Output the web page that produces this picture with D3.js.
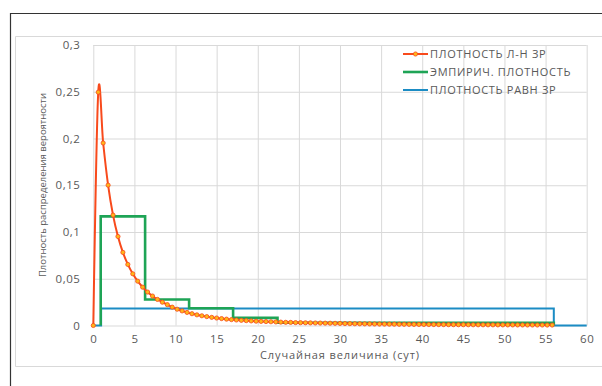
<!DOCTYPE html>
<html>
<head>
<meta charset="utf-8">
<script src="https://cdn.jsdelivr.net/npm/d3@7"></script>
<style>
  html, body { margin: 0; padding: 0; background: #fff; }
  svg { display: block; }
  text { font-family: "Open Sans", "Noto Sans", sans-serif; fill: #595959; }
</style>
</head>
<body>
<svg id="chart" width="602" height="386"></svg>
<script>
// Lognormal density samples (x in days, density)
const lognormX = [0, 0.6, 1.2, 1.8, 2.4, 3, 3.6, 4.2, 4.8, 5.4, 6, 6.6, 7.2, 7.8, 8.4, 9, 9.6, 10.2, 10.8, 11.4,
  12, 12.6, 13.2, 13.8, 14.4, 15, 15.6, 16.2, 16.8, 17.4, 18, 18.6, 19.2, 19.8, 20.4, 21, 21.6, 22.2, 22.8, 23.4,
  24, 24.6, 25.2, 25.8, 26.4, 27, 27.6, 28.2, 28.8, 29.4, 30, 30.6, 31.2, 31.8, 32.4, 33, 33.6, 34.2, 34.8, 35.4,
  36, 36.6, 37.2, 37.8, 38.4, 39, 39.6, 40.2, 40.8, 41.4, 42, 42.6, 43.2, 43.8, 44.4, 45, 45.6, 46.2, 46.8, 47.4,
  48, 48.6, 49.2, 49.8, 50.4, 51, 51.6, 52.2, 52.8, 53.4, 54, 54.6, 55.2, 55.8];
const lognormY = [0, 0.2495, 0.1952, 0.1501, 0.1181, 0.0952, 0.0782, 0.0653, 0.0553, 0.0474, 0.0410, 0.0358, 0.0315,
  0.0279, 0.0249, 0.0223, 0.0196, 0.0174, 0.0156, 0.0140, 0.0126, 0.0114, 0.0104, 0.0095, 0.0087, 0.0080, 0.0074,
  0.0068, 0.0063, 0.0059, 0.0055, 0.0052, 0.0049, 0.0046, 0.0044, 0.0042, 0.0040, 0.0038, 0.0036, 0.0034, 0.0033,
  0.0031, 0.0030, 0.0029, 0.0028, 0.0027, 0.0026, 0.0025, 0.0024, 0.0023, 0.0022, 0.00207, 0.00198, 0.00189,
  0.00182, 0.00174, 0.00167, 0.0016, 0.00154, 0.00148, 0.00142, 0.00137, 0.00131, 0.00127, 0.00122, 0.00117,
  0.00113, 0.00109, 0.00105, 0.00102, 0.00098, 0.00095, 0.00092, 0.00089, 0.00086, 0.00083, 0.0008, 0.00078,
  0.00075, 0.00073, 0.00071, 0.00068, 0.00066, 0.00064, 0.00062, 0.0006, 0.00059, 0.00057, 0.00055, 0.00054,
  0.00052, 0.00051, 0.00049, 0.00048];

// Empirical density (histogram bins)
const empiricalEdges = [0.9, 6.3, 11.65, 17.0, 22.4, 56.0];
const empiricalHeights = [0.1167, 0.0278, 0.0185, 0.0082, 0.0029];

// Uniform density
const uniformFrom = 0.95;
const uniformTo = 56.0;
const uniformHeight = 0.01815;
const uniformAxisEnd = 60;

// Axis ticks
const xTicks = [0, 5, 10, 15, 20, 25, 30, 35, 40, 45, 50, 55, 60];
const yTicks = [0, 0.05, 0.1, 0.15, 0.2, 0.25, 0.3];

const seriesNames = ["ПЛОТНОСТЬ Л-Н ЗР", "ЭМПИРИЧ. ПЛОТНОСТЬ", "ПЛОТНОСТЬ РАВН ЗР"];
const xTitle = "Случайная величина (сут)";
const yTitle = "Плотность распределения вероятности";

const colors = { lognorm: "#f84a1c", marker: "#ffb619", empirical: "#1ea456", uniform: "#1b8cc4", grid: "#d9d9d9" };

const svg = d3.select("#chart");

// frames
svg.append("path").attr("d", "M10.5,386 V13.5 H602").attr("fill", "none").attr("stroke", "#333").attr("stroke-width", 1.2);
svg.append("path").attr("d", "M602,36.5 H15.5 V366.5 H602").attr("fill", "none").attr("stroke", "#d9d9d9").attr("stroke-width", 1);

const x = d3.scaleLinear().domain([0, 60]).range([93.3, 586.7]);
const y = d3.scaleLinear().domain([0, 0.3]).range([325.5, 45]);

// gridlines
const grid = svg.append("g");
grid.append("g").attr("transform", `translate(0,${y(0)})`)
  .call(d3.axisBottom(x).tickValues(xTicks).tickSize(-(y(0) - y(0.3))).tickFormat(""))
  .call(g => g.select(".domain").remove())
  .call(g => g.selectAll("line").attr("stroke", colors.grid));
grid.append("g").attr("transform", `translate(${x(0)},0)`)
  .call(d3.axisLeft(y).tickValues(yTicks).tickSize(-(x(60) - x(0))).tickFormat(""))
  .call(g => g.select(".domain").remove())
  .call(g => g.selectAll("line").attr("stroke", colors.grid));

// tick labels
const locale = d3.formatLocale({ decimal: ",", thousands: " ", grouping: [3], currency: ["", ""] });
const fmt = locale.format(".2~f");
const styleTicks = g => g.selectAll("text")
  .attr("font-size", 11.5).attr("letter-spacing", "0.5px")
  .attr("fill", "#595959").attr("font-family", "Open Sans");
svg.append("g").attr("transform", `translate(${x(0)},0)`)
  .call(d3.axisLeft(y).tickValues(yTicks).tickSize(0).tickPadding(13).tickFormat(fmt))
  .call(g => g.select(".domain").remove())
  .call(styleTicks);
svg.append("g").attr("transform", `translate(0,${y(0)})`)
  .call(d3.axisBottom(x).tickValues(xTicks).tickSize(0).tickPadding(9).tickFormat(d3.format("d")))
  .call(g => g.select(".domain").remove())
  .call(styleTicks);

// axis titles
svg.append("text").attr("x", 340).attr("y", 359).attr("text-anchor", "middle")
  .attr("font-size", 11).attr("letter-spacing", "0.9px").text(xTitle);
svg.append("text").attr("transform", "translate(46,185) rotate(-90)").attr("text-anchor", "middle")
  .attr("font-size", 9.5).text(yTitle);

// uniform density
const uniPts = [[0, 0], [uniformFrom, 0], [uniformFrom, uniformHeight], [uniformTo, uniformHeight], [uniformTo, 0], [uniformAxisEnd, 0]];
const straight = d3.line().x(d => x(d[0])).y(d => y(d[1]));
svg.append("path").attr("d", straight(uniPts)).attr("fill", "none")
  .attr("stroke", colors.uniform).attr("stroke-width", 2);

// empirical density steps
const empPts = [[empiricalEdges[0], 0]];
empiricalHeights.forEach((h, i) => {
  empPts.push([empiricalEdges[i], h]);
  empPts.push([empiricalEdges[i + 1], h]);
});
empPts.push([empiricalEdges[empiricalEdges.length - 1], 0]);
svg.append("path").attr("d", straight(empPts)).attr("fill", "none")
  .attr("stroke", colors.empirical).attr("stroke-width", 2.6).attr("stroke-linejoin", "miter");

// lognormal density, smoothed
const lnPts = lognormX.map((v, i) => [v, lognormY[i]]);
const smooth = d3.line().x(d => x(d[0])).y(d => y(d[1])).curve(d3.curveCatmullRom.alpha(0));
svg.append("path").attr("d", smooth(lnPts)).attr("fill", "none")
  .attr("stroke", colors.lognorm).attr("stroke-width", 2);
svg.append("g").selectAll("circle").data(lnPts).join("circle")
  .attr("cx", d => x(d[0])).attr("cy", d => y(d[1])).attr("r", 2.1)
  .attr("fill", colors.marker).attr("stroke", colors.lognorm).attr("stroke-width", 0.8);

// legend
const legend = svg.append("g");
const legendRows = [
  { name: seriesNames[0], color: colors.lognorm, width: 2, marker: true },
  { name: seriesNames[1], color: colors.empirical, width: 2.6, marker: false },
  { name: seriesNames[2], color: colors.uniform, width: 2, marker: false }
];
legendRows.forEach((r, i) => {
  const cy = 54 + i * 18;
  legend.append("line").attr("x1", 403).attr("x2", 428).attr("y1", cy).attr("y2", cy)
    .attr("stroke", r.color).attr("stroke-width", r.width);
  if (r.marker) {
    legend.append("circle").attr("cx", 415.5).attr("cy", cy).attr("r", 2.1)
      .attr("fill", colors.marker).attr("stroke", r.color).attr("stroke-width", 0.8);
  }
  legend.append("text").attr("x", 430).attr("y", cy).attr("dy", "0.35em")
    .attr("font-size", 11).attr("letter-spacing", "0.7px").text(r.name);
});
</script>
</body>
</html>
